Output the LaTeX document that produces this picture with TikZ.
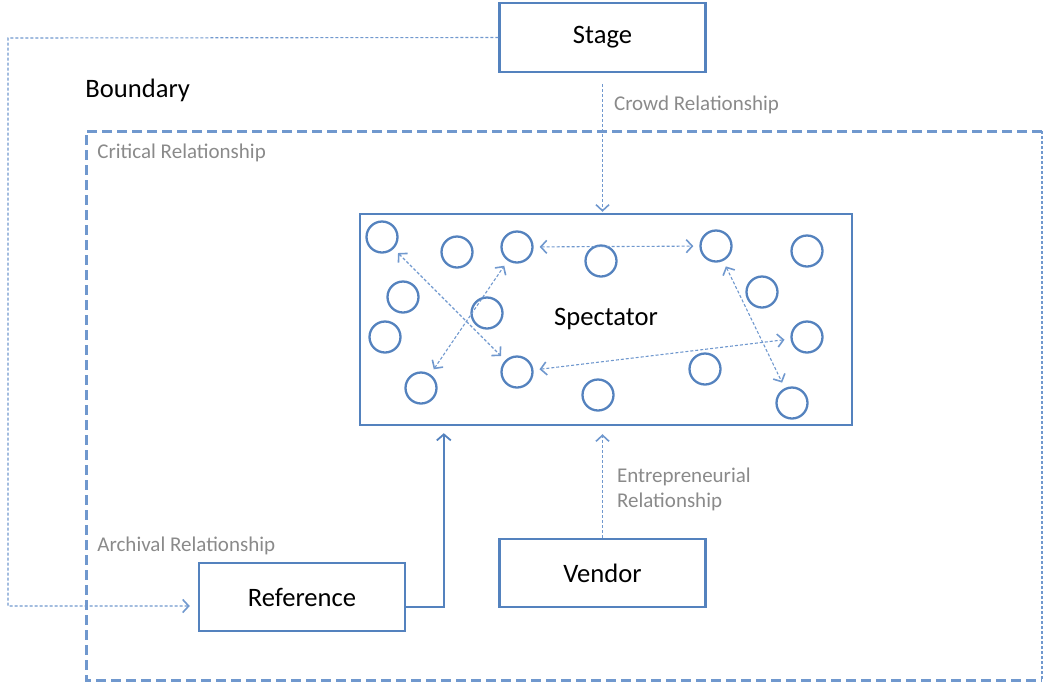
\documentclass[tikz,border=0pt]{standalone}
\usepackage{fontspec}
\setmainfont{Carlito}
\usetikzlibrary{arrows.meta}
\definecolor{boxblue}{RGB}{84,130,190}
\definecolor{lineblue}{RGB}{112,152,206}
\definecolor{labelgrey}{RGB}{138,138,138}

\begin{document}
\begin{tikzpicture}[x=0.5pt,y=-0.5pt,
		box/.style={draw=boxblue,line width=1.2pt,minimum width=103pt,minimum height=34.5pt,font=\fontsize{13.3}{16}\selectfont},
		person/.style={draw=boxblue,line width=1.15pt,circle,minimum size=15.5pt,inner sep=0pt},
		rel/.style={labelgrey,font=\fontsize{10.5}{12.5}\selectfont,anchor=west,inner sep=0pt,align=left},
		boundary/.style={lineblue,line width=1.5pt,dash pattern=on 5pt off 2.5pt},
		link/.style={lineblue,line width=0.55pt,dash pattern=on 1.5pt off 1pt},
		tip/.style={-{Straight Barb[length=3pt,width=6.5pt,line width=0.8pt]}},
		both/.style={{Straight Barb[length=3pt,width=6.5pt,line width=0.8pt]}-{Straight Barb[length=3pt,width=6.5pt,line width=0.8pt]}}]
		  \useasboundingbox (0,0) rectangle (1049,687);
		  \draw[boundary] (1042,131) -- (86,131) -- (86,680) -- (1042,680);
		  \draw[link] (1042,131) -- (1042,680);
		  \node[anchor=west,inner sep=0pt,font=\fontsize{13.3}{16}\selectfont] (boundlabel) at (85,90) {Boundary};
		  \node[rel] (critlabel) at (97,153) {Critical Relationship};
		  \node[box] (stage) at (602.5,37.5) {Stage};
		  \node[box,minimum width=246pt,minimum height=105.5pt] (spec) at (606,319.5) {Spectator};
		  \node[box,minimum height=34pt] (vendor) at (602.5,573) {Vendor};
		  \node[box,minimum height=34pt] (ref) at (302,597) {Reference};
		  \foreach \x/\y [count=\i] in {382/237,457/252,517/247,601/261,716/246,807/251,403/297,487/313,762/292,385/337,807/337,421/388,517/372,705/369,598/395,792/403}
		    \node[person] (c\i) at (\x,\y) {};
		  \draw[link,both,shorten <=3pt,shorten >=3pt] (c1) -- (c13);
		  \draw[link,both,shorten <=3pt,shorten >=3pt] (c12) -- (c3);
		  \draw[link,both,shorten <=3pt,shorten >=3pt] (c3) -- (c5);
		  \draw[link,both,shorten <=3pt,shorten >=3pt] (c5) -- (c16);
		  \draw[link,both,shorten <=3pt,shorten >=3pt] (c13) -- (c11);
		  \draw[link,tip,shorten <=5.5pt,shorten >=0.5pt] (stage.south) -- (stage.south |- spec.north) node[rel,pos=0.23,xshift=5.5pt] (crowdlabel) {Crowd Relationship};
		  \draw[link,tip,shorten >=4pt] (vendor.north) -- (vendor.north |- spec.south) node[rel,pos=0.43,xshift=7pt] (entlabel) {Entrepreneurial\\Relationship};
		  \coordinate (leftrun) at (8,38);
		  \draw[link,tip,shorten >=4pt] (stage.west) -- (leftrun) |- ([yshift=-4.5pt]ref.west);
		  \node[rel] (archlabel) at (97,546) {Archival Relationship};
		  \draw[boxblue,line width=0.7pt,-{Straight Barb[length=3pt,width=7pt,line width=0.9pt]},shorten >=3.5pt] ([yshift=-5pt]ref.east) -| ([xshift=42.5pt]spec.south west);
		\end{tikzpicture}
\end{document}
